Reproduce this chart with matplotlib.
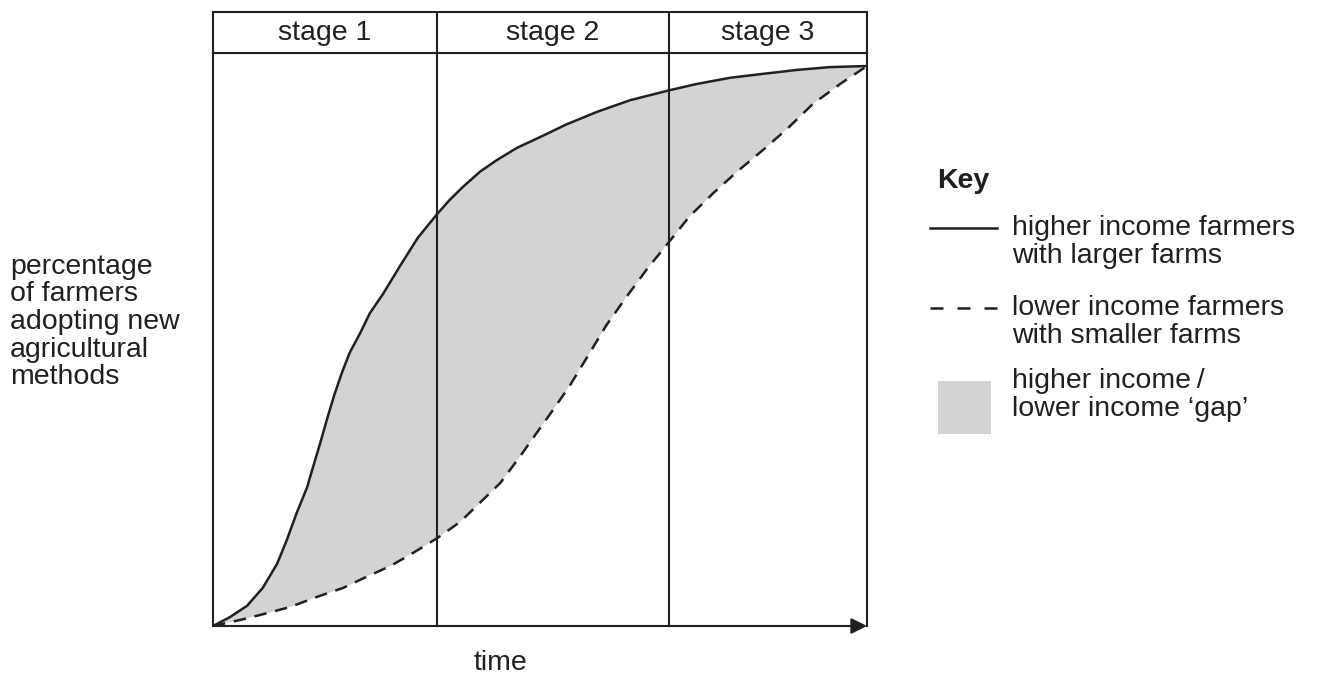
import matplotlib.pyplot as plt
from matplotlib.lines import Line2D
from matplotlib.patches import Rectangle

# time (0-100 across the box) and percentage adopting (100 at the end point)
higher_x = [0, 2.6, 5.2, 7.6, 9.8, 11.3, 12.8, 14.4, 15.3, 16.4, 17.4, 18.5,
            19.7, 20.9, 22.5, 24.0, 26.0, 28.6, 31.3, 34.3, 36.2, 38.2, 40.8,
            43.4, 46.5, 50.0, 54.1, 58.7, 63.8, 69.9, 74.0, 79.1, 84.1, 89.3,
            94.3, 100]
higher_y = [0, 1.6, 3.6, 6.8, 11.1, 15.4, 20.2, 24.8, 28.4, 32.7, 36.8, 41.1,
            45.2, 48.8, 52.3, 55.9, 59.3, 64.3, 69.3, 73.6, 76.1, 78.4, 81.1,
            83.2, 85.4, 87.3, 89.6, 91.8, 93.9, 95.7, 96.8, 97.9, 98.6, 99.3,
            99.8, 100]

lower_x = [0, 4.6, 8.3, 11.8, 15.9, 19.9, 23.5, 27.1, 30.1, 34.3, 37.8, 40.8,
           43.9, 46.9, 49.5, 52.0, 54.6, 57.2, 60.2, 63.3, 66.4, 69.6, 72.9,
           76.5, 80.3, 84.1, 87.9, 91.7, 95.9, 100]
lower_y = [0, 1.2, 2.3, 3.4, 5.2, 6.8, 8.8, 10.7, 12.7, 15.7, 18.6, 22.0,
           25.5, 30.2, 34.5, 38.6, 43.0, 48.0, 53.8, 58.9, 63.8, 68.4, 73.2,
           77.3, 81.3, 85.0, 88.9, 93.2, 96.8, 100]

stage_labels = ["stage 1", "stage 2", "stage 3"]
stage_edges = [0, 34.25, 69.7, 100]

key_labels = [
    "higher income farmers\nwith larger farms",
    "lower income farmers\nwith smaller farms",
    "higher income\u2009/\nlower income \u2018gap\u2019",
]

INK = "#231f20"
GAP = "#d1d3d4"
FS = 20.5

plt.rcParams["font.family"] = ["Liberation Sans", "DejaVu Sans"]

W, H = 1319, 684
fig = plt.figure(figsize=(W / 100, H / 100), dpi=100)


def fx(px):
    return px / W


def fy(py):
    return 1 - py / H


# main plotting box
left, right, top, bottom = 213, 867, 53, 626
ax = fig.add_axes([fx(left), fy(bottom), fx(right) - fx(left), fy(top) - fy(bottom)])
ytop = 100 * (bottom - top) / (bottom - 66)
ax.set_xlim(0, 100)
ax.set_ylim(0, ytop)
ax.set_xticks([])
ax.set_yticks([])
for side in ["left", "right", "top"]:
    ax.spines[side].set_color(INK)
    ax.spines[side].set_linewidth(1.5)
ax.spines["bottom"].set_visible(False)

ax.fill(higher_x + lower_x[::-1], higher_y + lower_y[::-1], color=GAP, lw=0, zorder=1)
ax.plot(higher_x, higher_y, color=INK, lw=1.8, zorder=3,
        solid_joinstyle="round")
ax.plot(lower_x, lower_y, color=INK, lw=1.8, ls=(0, (5, 3.5)), zorder=3)
for edge in stage_edges[1:-1]:
    ax.axvline(edge, color=INK, lw=1.5, zorder=2)

ax.annotate("", xy=(100, 0), xytext=(0, 0), xycoords="data",
            arrowprops=dict(arrowstyle="-|>", color=INK, lw=1.5,
                            mutation_scale=24, shrinkA=0, shrinkB=0),
            annotation_clip=False, zorder=4)

# stage header row
hax = fig.add_axes([fx(left), fy(top), fx(right) - fx(left), fy(12) - fy(top)])
hax.set_xlim(0, 100)
hax.set_ylim(0, 1)
hax.set_xticks([])
hax.set_yticks([])
for side in hax.spines:
    hax.spines[side].set_color(INK)
    hax.spines[side].set_linewidth(1.5)
for i, label in enumerate(stage_labels):
    hax.axvline(stage_edges[i + 1], color=INK, lw=1.5)
    hax.text((stage_edges[i] + stage_edges[i + 1]) / 2, 0.5, label,
             ha="center", va="center", fontsize=FS, color=INK)

# axis labels
fig.text(fx(10), fy(322), "percentage\nof farmers\nadopting new\nagricultural\nmethods",
         ha="left", va="center", fontsize=FS, color=INK, linespacing=1.08)
fig.text(fx(500), fy(663), "time", ha="center", va="center", fontsize=FS, color=INK)

# key
fig.text(fx(937), fy(181), "Key", ha="left", va="center", fontsize=FS,
         fontweight="bold", color=INK)
fig.add_artist(Line2D([fx(930), fx(997)], [fy(228), fy(228)], color=INK, lw=1.8))
fig.add_artist(Line2D([fx(930), fx(997)], [fy(308), fy(308)], color=INK, lw=1.8,
                      ls=(0, (5.2, 5.6))))
fig.add_artist(Rectangle((fx(938), fy(434)), fx(991) - fx(938), fy(381) - fy(434),
                         transform=fig.transFigure, color=GAP, lw=0))
for label, mid in zip(key_labels, [242, 322, 395]):
    fig.text(fx(1012), fy(mid), label, ha="left", va="center", fontsize=FS,
             color=INK, linespacing=1.08)

fig.savefig("out.png", dpi=100)
